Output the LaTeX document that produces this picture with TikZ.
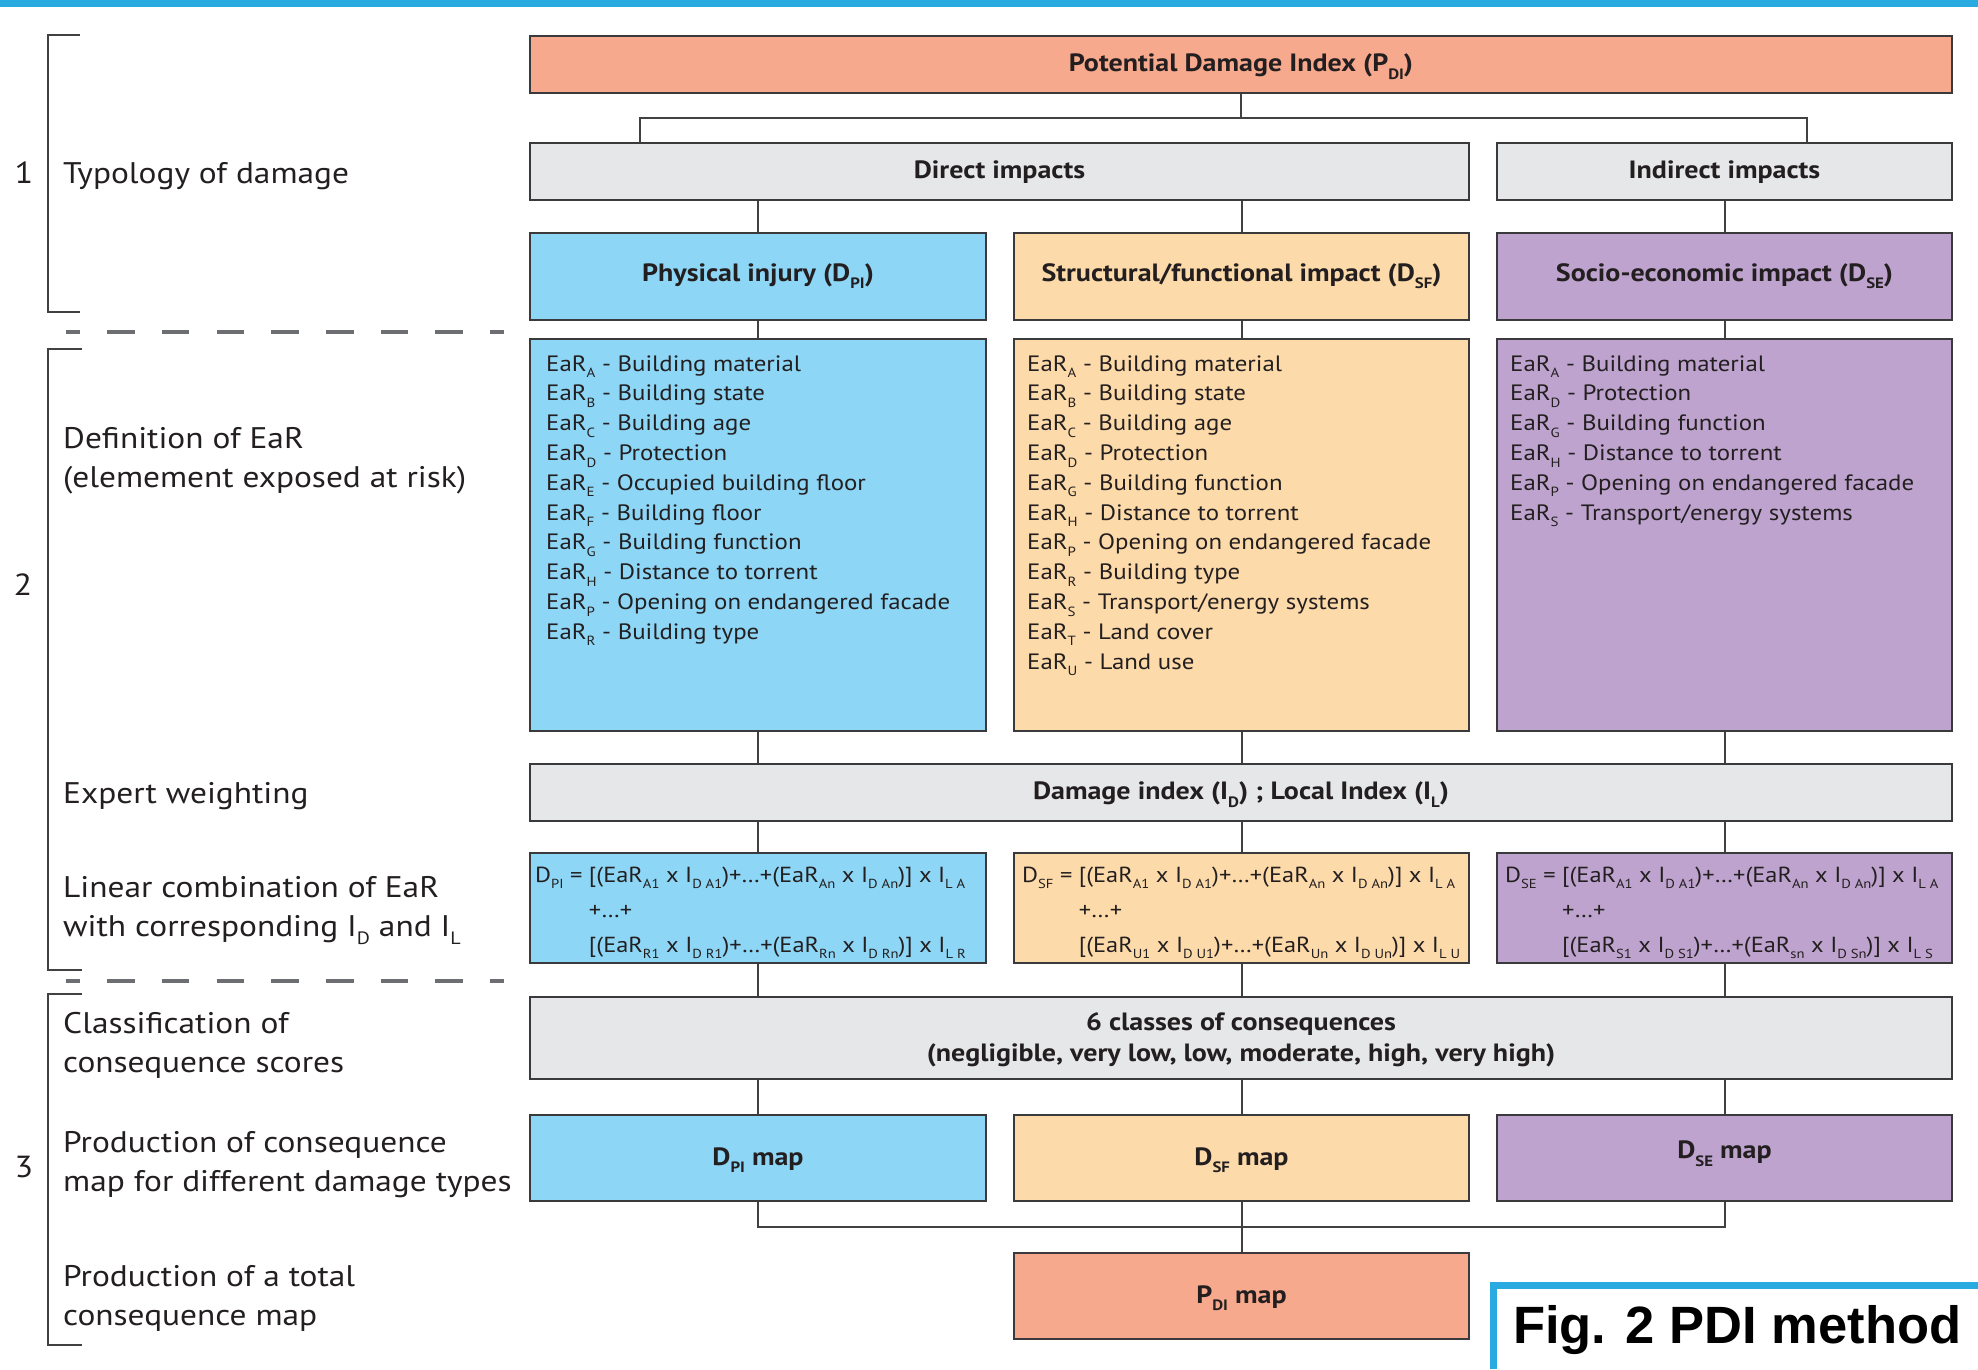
\documentclass[tikz,border=0pt]{standalone}
\usepackage{fontspec}
\usepackage{graphicx}
\setmainfont{PT Sans}[FakeStretch=1.12]
\newfontfamily\figfont{Liberation Sans}
\definecolor{topblue}{HTML}{29ABE2}
\definecolor{salmon}{HTML}{F6A98D}
\definecolor{lgray}{HTML}{E6E7E8}
\definecolor{lblue}{HTML}{8DD6F6}
\definecolor{lorange}{HTML}{FDDAA9}
\definecolor{lpurple}{HTML}{BEA3CE}
\definecolor{bordercol}{HTML}{3A3A3C}
\definecolor{textcol}{HTML}{231F20}
\definecolor{linecol}{HTML}{414042}
\definecolor{brkcol}{HTML}{414042}
\definecolor{dashcol}{HTML}{6D6E71}
\newcommand\sbs[1]{\raisebox{-0.3em}{\scalebox{0.6}{#1}}}
\newcommand\ml[1]{\begin{tabular}[t]{@{}l@{}}#1\end{tabular}}
\begin{document}
\begin{tikzpicture}[x=1pt,y=-1pt,
  box/.style={draw=bordercol, line width=2.6pt, inner sep=0pt, text=textcol},
  ttl/.style={font=\fontsize{25}{30}\selectfont\bfseries, text height=17pt, text depth=3pt},
  ttlb/.style={font=\fontsize{25}{30}\selectfont\bfseries, text height=17pt, text depth=8pt},
  lst/.style={anchor=base west, inner sep=0pt, text=textcol, font=\fontsize{22.2}{29.8}\selectfont},
  frm/.style={anchor=base west, inner sep=0pt, text=textcol, font=\fontsize{21.8}{35}\selectfont},
  lbl/.style={anchor=base west, inner sep=0pt, text=textcol, font=\fontsize{29.8}{39}\selectfont},
  num/.style={anchor=base, inner sep=0pt, text=textcol, font=\fontsize{30.5}{39}\selectfont},
  conn/.style={draw=linecol, line width=2pt},
  brk/.style={draw=brkcol, line width=2.8pt},
  dsh/.style={draw=dashcol, line width=4pt, dash pattern=on 27.5pt off 27.2pt, dash phase=13.5pt}
]
\useasboundingbox (0,0) rectangle (1978,1369);
\fill[topblue] (0,0) rectangle (1978,6.5);

% ---------- boxes ----------
\node[box, ttl, fill=salmon, minimum width=1422pt, minimum height=57pt] (pdi) at (1241,64.5) {Potential Damage Index (P\sbs{DI})};
\node[box, ttl, fill=lgray, minimum width=939pt, minimum height=57pt] (direct) at (999.5,171.5) {Direct impacts};
\node[box, ttl, fill=lgray, minimum width=455pt, minimum height=57pt] (indirect) at (1724.5,171.5) {Indirect impacts};

\node[box, ttlb, fill=lblue, minimum width=456pt, minimum height=87pt] (phys) at (758,276.5) {Physical injury (D\sbs{PI})};
\node[box, ttlb, fill=lorange, minimum width=455pt, minimum height=87pt] (struct) at (1241.5,276.5) {Structural/functional impact (D\sbs{SF})};
\node[box, ttlb, fill=lpurple, minimum width=455pt, minimum height=87pt] (socio) at (1724.5,276.5) {Socio-economic impact (D\sbs{SE})};

\node[box, fill=lblue, minimum width=456pt, minimum height=392pt] (listP) at (758,535) {};
\node[box, fill=lorange, minimum width=455pt, minimum height=392pt] (listS) at (1241.5,535) {};
\node[box, fill=lpurple, minimum width=455pt, minimum height=392pt] (listE) at (1724.5,535) {};

\node[box, ttl, fill=lgray, minimum width=1422pt, minimum height=57pt] (dmg) at (1241,792.5) {Damage index (I\sbs{D}) ; Local Index (I\sbs{L})};

\node[box, fill=lblue, minimum width=456pt, minimum height=110pt] (frmP) at (758,908) {};
\node[box, fill=lorange, minimum width=455pt, minimum height=110pt] (frmS) at (1241.5,908) {};
\node[box, fill=lpurple, minimum width=455pt, minimum height=110pt] (frmE) at (1724.5,908) {};

\node[box, fill=lgray, minimum width=1422pt, minimum height=82pt] (cls) at (1241,1038) {};
\node[anchor=base, inner sep=0pt, text=textcol, font=\fontsize{25}{30}\selectfont\bfseries] (cls1) at (1241,1030) {6 classes of consequences};
\node[anchor=base, inner sep=0pt, text=textcol, font=\fontsize{25}{30}\selectfont\bfseries] (cls2) at (1241,1061) {(negligible, very low, low, moderate, high, very high)};

\node[box, ttl, fill=lblue, minimum width=456pt, minimum height=86pt] (mapP) at (758,1158) {D\sbs{PI} map};
\node[box, ttl, fill=lorange, minimum width=455pt, minimum height=86pt] (mapS) at (1241.5,1158) {D\sbs{SF} map};
\node[box, fill=lpurple, minimum width=455pt, minimum height=86pt] (mapE) at (1724.5,1158) {};
\node[ttl, text=textcol, inner sep=0pt] (mapEt) at (1724.5,1151.5) {D\sbs{SE} map};

\node[box, ttl, fill=salmon, minimum width=455pt, minimum height=86pt] (pdimap) at (1241.5,1296) {P\sbs{DI} map};

% ---------- list texts ----------
\node[lst] (tP) at (546,371) {\ml{EaR\sbs{A} - Building material\\EaR\sbs{B} - Building state\\EaR\sbs{C} - Building age\\EaR\sbs{D} - Protection\\EaR\sbs{E} - Occupied building floor\\EaR\sbs{F} - Building floor\\EaR\sbs{G} - Building function\\EaR\sbs{H} - Distance to torrent\\EaR\sbs{P} - Opening on endangered facade\\EaR\sbs{R} - Building type}};
\node[lst] (tS) at (1027,371) {\ml{EaR\sbs{A} - Building material\\EaR\sbs{B} - Building state\\EaR\sbs{C} - Building age\\EaR\sbs{D} - Protection\\EaR\sbs{G} - Building function\\EaR\sbs{H} - Distance to torrent\\EaR\sbs{P} - Opening on endangered facade\\EaR\sbs{R} - Building type\\EaR\sbs{S} - Transport/energy systems\\EaR\sbs{T} - Land cover\\EaR\sbs{U} - Land use}};
\node[lst] (tE) at (1510,371) {\ml{EaR\sbs{A} - Building material\\EaR\sbs{D} - Protection\\EaR\sbs{G} - Building function\\EaR\sbs{H} - Distance to torrent\\EaR\sbs{P} - Opening on endangered facade\\EaR\sbs{S} - Transport/energy systems}};

% ---------- formulas ----------
\node[frm] (fP) at (535,882) {\ml{D\sbs{PI} = [(EaR\sbs{A1} x I\sbs{D A1})+…+(EaR\sbs{An} x I\sbs{D An})] x I\sbs{L A}\\\phantom{D\sbs{PI} = }+…+\\\phantom{D\sbs{PI} = }[(EaR\sbs{R1} x I\sbs{D R1})+…+(EaR\sbs{Rn} x I\sbs{D Rn})] x I\sbs{L R}}};
\node[frm] (fS) at (1022,882) {\ml{D\sbs{SF} = [(EaR\sbs{A1} x I\sbs{D A1})+…+(EaR\sbs{An} x I\sbs{D An})] x I\sbs{L A}\\\phantom{D\sbs{SF} = }+…+\\\phantom{D\sbs{SF} = }[(EaR\sbs{U1} x I\sbs{D U1})+…+(EaR\sbs{Un} x I\sbs{D Un})] x I\sbs{L U}}};
\node[frm] (fE) at (1505,882) {\ml{D\sbs{SE} = [(EaR\sbs{A1} x I\sbs{D A1})+…+(EaR\sbs{An} x I\sbs{D An})] x I\sbs{L A}\\\phantom{D\sbs{SE} = }+…+\\\phantom{D\sbs{SE} = }[(EaR\sbs{S1} x I\sbs{D S1})+…+(EaR\sbs{sn} x I\sbs{D Sn})] x I\sbs{L S}}};

% ---------- connectors ----------
\coordinate (j1) at (1241,118);
\coordinate (dtop) at (640,143);
\coordinate (itop) at (1807,143);
\draw[conn] (pdi.south) -- (j1);
\draw[conn] (dtop) |- (j1) -| (itop);
\draw[conn] (direct.south -| phys.north) -- (phys.north);
\draw[conn] (direct.south -| struct.north) -- (struct.north);
\draw[conn] (indirect.south) -- (socio.north);
\draw[conn] (phys.south) -- (listP.north);
\draw[conn] (struct.south) -- (listS.north);
\draw[conn] (socio.south) -- (listE.north);
\draw[conn] (listP.south) -- (dmg.north -| listP.south);
\draw[conn] (listS.south) -- (dmg.north -| listS.south);
\draw[conn] (listE.south) -- (dmg.north -| listE.south);
\draw[conn] (dmg.south -| frmP.north) -- (frmP.north);
\draw[conn] (dmg.south -| frmS.north) -- (frmS.north);
\draw[conn] (dmg.south -| frmE.north) -- (frmE.north);
\draw[conn] (frmP.south) -- (cls.north -| frmP.south);
\draw[conn] (frmS.south) -- (cls.north -| frmS.south);
\draw[conn] (frmE.south) -- (cls.north -| frmE.south);
\draw[conn] (cls.south -| mapP.north) -- (mapP.north);
\draw[conn] (cls.south -| mapS.north) -- (mapS.north);
\draw[conn] (cls.south -| mapE.north) -- (mapE.north);
\coordinate (jb) at (1241.5,1227);
\draw[conn] (mapP.south) |- (jb) -| (mapE.south);
\draw[conn] (mapS.south) -- (pdimap.north);

% ---------- left side ----------
\draw[brk] (80,35) -- (48,35) -- (48,312) -- (80,312);
\draw[brk] (82,349) -- (48,349) -- (48,970) -- (82,970);
\draw[brk] (82,994) -- (48,994) -- (48,1345) -- (82,1345);
\draw[dsh] (66,332) -- (504,332);
\draw[dsh] (66,981) -- (504,981);

\node[num] (n1) at (24,183) {1};
\node[num] (n2) at (23,595) {2};
\node[num] (n3) at (24,1177) {3};

\node[lbl] (l1) at (63,183) {Typology of damage};
\node[lbl] (l2) at (63,448) {\ml{Definition of EaR\\(elemement exposed at risk)}};
\node[lbl] (l3) at (63,803) {Expert weighting};
\node[lbl] (l4) at (63,897) {\ml{Linear combination of EaR\\with corresponding I\sbs{D} and I\sbs{L}}};
\node[lbl] (l5) at (63,1033) {\ml{Classification of\\consequence scores}};
\node[lbl] (l6) at (63,1152) {\ml{Production of consequence\\map for different damage types}};
\node[lbl] (l7) at (63,1286) {\ml{Production of a total\\consequence map}};

% ---------- caption box ----------
\fill[topblue] (1490,1282) rectangle (1978,1289);
\fill[topblue] (1490,1282) rectangle (1497,1369);
\node[anchor=base west, inner sep=0pt, text=black, font=\figfont\bfseries\fontsize{52.5}{60}\selectfont] (fig) at (1513,1343) {Fig. 2 PDI method};
\end{tikzpicture}
\end{document}
